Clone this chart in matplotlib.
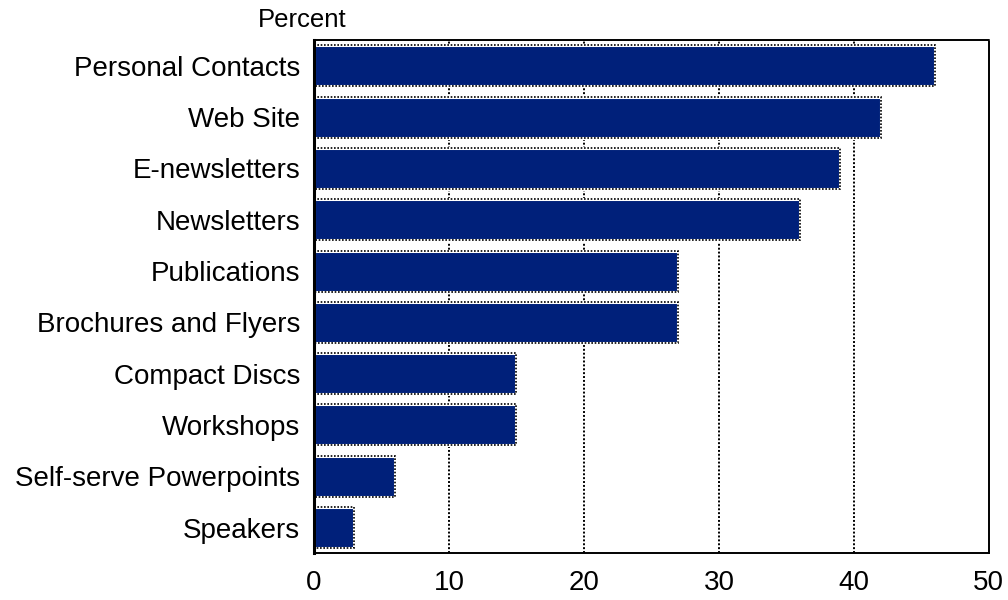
import matplotlib
matplotlib.use("Agg")
import matplotlib.pyplot as plt

categories = ["Personal Contacts", "Web Site", "E-newsletters", "Newsletters",
              "Publications", "Brochures and Flyers", "Compact Discs",
              "Workshops", "Self-serve Powerpoints", "Speakers"]
values = [46, 42, 39, 36, 27, 27, 15, 15, 6, 3]
xticks = [0, 10, 20, 30, 40, 50]

plt.rcParams['font.family'] = ['Liberation Sans', 'DejaVu Sans']

fig = plt.figure(figsize=(10.08, 6.0), dpi=100)
ax = fig.add_axes([0.3115, 0.078, 0.6695, 0.855])

ypos = list(range(len(categories)))
navy = '#00207a'
dot = (0, (1, 1))

# grid lines
for x in xticks[1:-1]:
    ax.axvline(x, color='black', lw=1.4, linestyle=dot, zorder=1)

# bars: filled body with a thin white inner rim, dotted black outline
ax.barh(ypos, values, height=0.8, color=navy, edgecolor='white', linewidth=2.2, zorder=2)
ax.barh(ypos, values, height=0.8, fill=False, edgecolor='black', linewidth=1.2,
        linestyle=dot, zorder=3)

ax.set_xlim(0, 50)
ax.set_ylim(len(categories) - 0.5, -0.5)
ax.set_xticks(xticks)
ax.set_yticks(ypos)
ax.set_yticklabels(categories)
ax.tick_params(axis='both', length=0, labelsize=20, colors='black')
ax.tick_params(axis='y', pad=10)
ax.tick_params(axis='x', pad=12)

for side in ['top', 'right', 'bottom']:
    ax.spines[side].set_linestyle(dot)
    ax.spines[side].set_linewidth(1.4)
    ax.spines[side].set_color('black')
ax.spines['left'].set_linewidth(2.2)
ax.spines['left'].set_color('black')

fig.text(258 / 1008, 1 - 20 / 600, "Percent", fontsize=18.5, ha='left', va='center')

fig.savefig("out.png", dpi=100)
